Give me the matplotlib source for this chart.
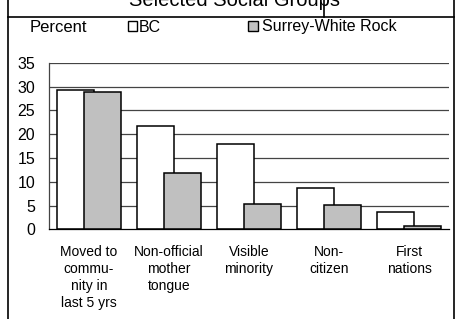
import matplotlib
matplotlib.use("Agg")
import matplotlib.pyplot as plt
from matplotlib.lines import Line2D
from matplotlib.patches import Rectangle
import numpy as np

plt.rcParams['font.family'] = ['Liberation Sans', 'DejaVu Sans']

categories = ["Moved to\ncommu-\nnity in\nlast 5 yrs", "Non-official\nmother\ntongue",
              "Visible\nminority", "Non-\ncitizen", "First\nnations"]
bc = [29.2, 21.7, 17.9, 8.6, 3.7]
surrey = [28.8, 11.9, 5.3, 5.2, 0.7]
yticks = [0, 5, 10, 15, 20, 25, 30, 35]
series_names = ["BC", "Surrey-White Rock"]
title = "Selected Social Groups"

W, H = 457, 319
fig = plt.figure(figsize=(W / 100, H / 100), dpi=100)
fig.patch.set_facecolor('white')

def fx(px):
    return px / W

def fy(py):
    return 1 - py / H

ax = fig.add_axes([fx(49), fy(229.3), fx(449) - fx(49), fy(62.7) - fy(229.3)])
x = np.arange(len(categories))
w = 0.47
off = 0.167
ax.bar(x - off, bc, width=w, color='white', edgecolor='black', linewidth=1.1, zorder=2)
ax.bar(x + off, surrey, width=w, color='#c0c0c0', edgecolor='black', linewidth=1.1, zorder=3)
ax.set_xlim(-0.5, len(categories) - 0.5)
ax.set_ylim(0, 35)
ax.set_yticks(yticks)
ax.set_yticklabels([str(t) for t in yticks], fontsize=11.5)
for t in yticks[1:]:
    ax.axhline(t, color='#444444', linewidth=0.9, zorder=1)
ax.set_xticks(x)
ax.set_xticklabels(categories, fontsize=10, linespacing=1.3)
ax.tick_params(axis='x', length=0, pad=11)
ax.tick_params(axis='y', length=0, pad=10)
for s in ['top', 'right']:
    ax.spines[s].set_visible(False)
ax.spines['left'].set_color('#444444')
ax.spines['left'].set_linewidth(0.9)
ax.spines['bottom'].set_color('black')
ax.spines['bottom'].set_linewidth(0.9)

# Legend row
fig.text(fx(30), fy(27), "Percent", fontsize=12, va='center', ha='left')
fig.add_artist(Rectangle((fx(128), fy(31)), fx(9), fy(21) - fy(31), transform=fig.transFigure,
                         facecolor='white', edgecolor='black', linewidth=1.0))
fig.text(fx(139), fy(27), series_names[0], fontsize=11.5, va='center', ha='left')
fig.add_artist(Rectangle((fx(248), fy(31)), fx(10), fy(21) - fy(31), transform=fig.transFigure,
                         facecolor='#c0c0c0', edgecolor='black', linewidth=1.0))
fig.text(fx(262), fy(27), series_names[1], fontsize=11.5, va='center', ha='left')

# Title (clipped at top) and frame
fig.text(fx(234), fy(6), title, fontsize=14.5, ha='center', va='baseline')
lc = 'black'
fig.add_artist(Line2D([fx(8), fx(8)], [0, 1], transform=fig.transFigure, color=lc, linewidth=1.2))
fig.add_artist(Line2D([fx(454), fx(454)], [0, 1], transform=fig.transFigure, color=lc, linewidth=1.2))
fig.add_artist(Line2D([fx(8), fx(454)], [fy(17), fy(17)], transform=fig.transFigure, color=lc, linewidth=1.2))
fig.add_artist(Line2D([fx(324), fx(324)], [fy(17), 1], transform=fig.transFigure, color=lc, linewidth=1.2))

fig.savefig("out.png", dpi=100, facecolor='white')
